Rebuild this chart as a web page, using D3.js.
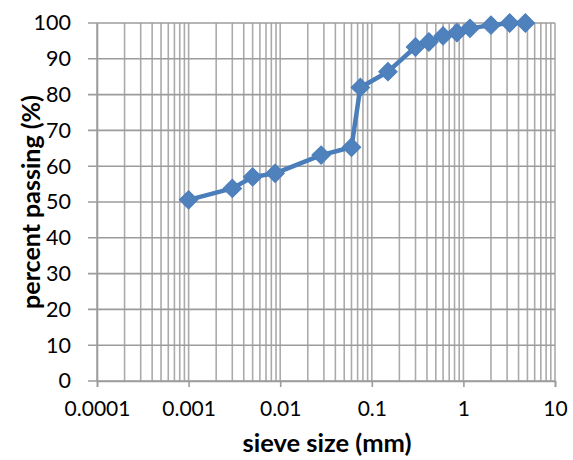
<!DOCTYPE html>
<html>
<head>
<meta charset="utf-8">
<script src="https://cdn.jsdelivr.net/npm/d3@7"></script>
<style>
  body { margin: 0; background: #fff; }
  text { font-family: Lato, "Open Sans", sans-serif; fill: #000; }
</style>
</head>
<body>
<svg id="chart" width="573" height="460"></svg>
<script>
// sieve sizes (mm) and percent passing
var sieveSize = [0.001, 0.003, 0.005, 0.0088, 0.028, 0.06, 0.075, 0.15, 0.3, 0.42, 0.6, 0.85, 1.18, 2.0, 3.2, 4.75];
var percentPassing = [50.6, 53.8, 57.0, 58.0, 63.1, 65.3, 82.0, 86.4, 93.3, 94.7, 96.4, 97.3, 98.5, 99.4, 100, 100];
var xTicks = [0.0001, 0.001, 0.01, 0.1, 1, 10];
var yTicks = [0, 10, 20, 30, 40, 50, 60, 70, 80, 90, 100];

var svg = d3.select('#chart');
var margin = {top: 23, right: 18, bottom: 79, left: 97},
    width = 573 - margin.left - margin.right,
    height = 460 - margin.top - margin.bottom;

var x = d3.scaleLog().domain([0.0001, 10]).range([0, width]),
    y = d3.scaleLinear().domain([0, 100]).range([height, 0]);

var g = svg.append('g').attr('transform', 'translate(' + margin.left + ',' + margin.top + ')');

// minor + major vertical gridlines (1..9 in each decade)
var vLines = [];
for (var e = -4; e < 1; e++) {
    for (var k = 1; k < 10; k++) vLines.push(k * Math.pow(10, e));
}
vLines.push(10);

g.append('g').selectAll('line').data(vLines).enter().append('line')
    .attr('x1', function(d) { return x(d); }).attr('x2', function(d) { return x(d); })
    .attr('y1', 0).attr('y2', height)
    .attr('stroke', '#ababab').attr('stroke-width', 1.6);

// horizontal gridlines, with the small outward tick on the left
g.append('g').selectAll('line').data(yTicks).enter().append('line')
    .attr('x1', -9).attr('x2', width)
    .attr('y1', function(d) { return y(d); }).attr('y2', function(d) { return y(d); })
    .attr('stroke', '#9c9c9c').attr('stroke-width', 1.6);

// axes
var xAxis = d3.axisBottom(x).tickValues(xTicks).tickSize(6)
    .tickFormat(function(d) { return String(d); });
var gx = g.append('g').attr('transform', 'translate(0,' + height + ')').call(xAxis);
gx.select('.domain').attr('stroke', '#9c9c9c').attr('stroke-width', 1.6);
gx.selectAll('.tick line').attr('stroke', '#9c9c9c').attr('stroke-width', 1.6);
gx.selectAll('text').style('font-size', '21px').attr('y', 35).attr('dy', 0);

var yAxis = d3.axisLeft(y).tickValues(yTicks).tickSize(0).tickPadding(26);
var gy = g.append('g').call(yAxis);
gy.select('.domain').attr('stroke', '#9c9c9c').attr('stroke-width', 1.6);
gy.selectAll('text').style('font-size', '21.5px');

// data line and diamond markers
var line = d3.line()
    .x(function(d, i) { return x(sieveSize[i]); })
    .y(function(d) { return y(d); });

g.append('path').datum(percentPassing)
    .attr('d', line)
    .attr('fill', 'none').attr('stroke', '#4a7ebb').attr('stroke-width', 4.5)
    .attr('stroke-linejoin', 'round');

var diamond = d3.symbol().type(d3.symbolSquare).size(170);
g.append('g').selectAll('path').data(percentPassing).enter().append('path')
    .attr('d', diamond)
    .attr('transform', function(d, i) { return 'translate(' + x(sieveSize[i]) + ',' + y(d) + ') rotate(45)'; })
    .attr('fill', '#4f81bd').attr('stroke', '#4a7ebb').attr('stroke-width', 1);

// axis titles
svg.append('text')
    .attr('x', 327).attr('y', 452)
    .attr('text-anchor', 'middle')
    .style('font-size', '25.5px').style('font-weight', 'bold')
    .text('sieve size (mm)');

svg.append('text')
    .attr('transform', 'translate(40,' + 202 + ') rotate(-90)')
    .attr('text-anchor', 'middle')
    .style('font-size', '25px').style('font-weight', 'bold')
    .text('percent passing (%)');
</script>
</body>
</html>
